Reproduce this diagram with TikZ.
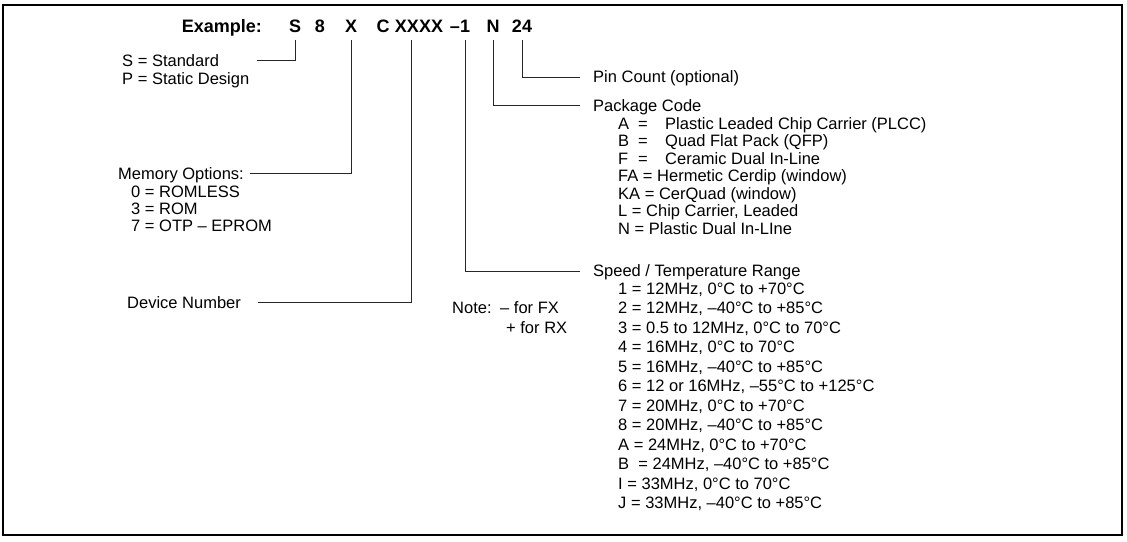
\documentclass[tikz,border=0pt]{standalone}
\usepackage{fontspec}
\setmainfont{Liberation Sans}
\begin{document}
\begin{tikzpicture}[x=1pt,y=-1pt,
  lbl/.style={anchor=base west, inner sep=0pt, font=\fontsize{16.5}{19}\selectfont},
  ttl/.style={anchor=base, inner sep=0pt, font=\fontsize{18}{21}\selectfont\bfseries},
  conn/.style={line width=0.8pt, draw=black!85}]
\useasboundingbox (0,0) rectangle (1127,541);
\draw[line width=1.6pt] (3,5) rectangle (1122,535);

% title
\node[ttl, anchor=base east] (tEx) at (262,32) {Example:};
\node[ttl] (tS) at (295,32) {S};
\node[ttl] (t8) at (320,32) {8};
\node[ttl] (tX) at (351,32) {X};
\node[ttl] (tC) at (383,32) {C};
\node[ttl] (tXXXX) at (419,32) {XXXX};
\node[ttl] (tm1) at (460,32) {--1};
\node[ttl] (tN) at (493,32) {N};
\node[ttl] (t24) at (522,32) {24};

% left labels
\node[lbl] (lS) at (122,66) {S = Standard};
\node[lbl] (lP) at (122,84) {P = Static Design};
\node[lbl] (lMem) at (118,179) {Memory Options:};
\node[lbl] (lM0) at (131,197) {0 = ROMLESS};
\node[lbl] (lM3) at (131,214) {3 = ROM};
\node[lbl] (lM7) at (131,231) {7 = OTP -- EPROM};
\node[lbl] (lDev) at (127,308) {Device Number};

\coordinate (jS) at (257,60);
\coordinate (jMem) at (250,173);
\coordinate (jDev) at (258,302);

\draw[conn] ([yshift=-8pt]tS.base) |- (jS);
\draw[conn] ([yshift=-8pt]tX.base) |- (jMem);
\draw[conn] ([xshift=-8pt,yshift=-8pt]tXXXX.base) |- (jDev);

% right labels
\node[lbl] (lPin) at (593,82) {Pin Count (optional)};
\node[lbl] (lPkg) at (593,111) {Package Code};
\node[lbl] (pA) at (618,129) {\makebox[20pt][l]{A}\makebox[27pt][l]{=}Plastic Leaded Chip Carrier (PLCC)};
\node[lbl] (pB) at (618,146.5) {\makebox[20pt][l]{B}\makebox[27pt][l]{=}Quad Flat Pack (QFP)};
\node[lbl] (pF) at (618,164) {\makebox[20pt][l]{F}\makebox[27pt][l]{=}Ceramic Dual In-Line};
\node[lbl] (pFA) at (618,181.5) {FA = Hermetic Cerdip (window)};
\node[lbl] (pKA) at (618,199) {KA = CerQuad (window)};
\node[lbl] (pL) at (618,216.5) {L = Chip Carrier, Leaded};
\node[lbl] (pN) at (618,234) {N = Plastic Dual In-LIne};

\node[lbl] (lSpd) at (593,276) {Speed / Temperature Range};
\node[lbl] (s1) at (618,294) {1 = 12MHz, 0°C to +70°C};
\node[lbl] (s2) at (618,313.5) {2 = 12MHz, --40°C to +85°C};
\node[lbl] (s3) at (618,333) {3 = 0.5 to 12MHz, 0°C to 70°C};
\node[lbl] (s4) at (618,352.5) {4 = 16MHz, 0°C to 70°C};
\node[lbl] (s5) at (618,372) {5 = 16MHz, --40°C to +85°C};
\node[lbl] (s6) at (618,391.5) {6 = 12 or 16MHz, --55°C to +125°C};
\node[lbl] (s7) at (618,411) {7 = 20MHz, 0°C to +70°C};
\node[lbl] (s8) at (618,430.5) {8 = 20MHz, --40°C to +85°C};
\node[lbl] (sA) at (618,450) {A = 24MHz, 0°C to +70°C};
\node[lbl] (sB) at (618,469.5) {B\ \ = 24MHz, --40°C to +85°C};
\node[lbl] (sI) at (618,489) {I = 33MHz, 0°C to 70°C};
\node[lbl] (sJ) at (618,508.5) {J = 33MHz, --40°C to +85°C};

\node[lbl] (nNote) at (452,313.5) {Note:};
\node[lbl] (nFX) at (500,313.5) {-- for FX};
\node[lbl] (nRX) at (506,333) {+ for RX};

\coordinate (jPin) at (580,77);
\coordinate (jPkg) at (580,105);
\coordinate (jSpd) at (580,271);

\draw[conn] ([yshift=-8pt]t24.base) |- (jPin);
\draw[conn] ([yshift=-8pt]tN.base) |- (jPkg);
\draw[conn] ([xshift=5pt,yshift=-8pt]tm1.base) |- (jSpd);
\end{tikzpicture}
\end{document}
